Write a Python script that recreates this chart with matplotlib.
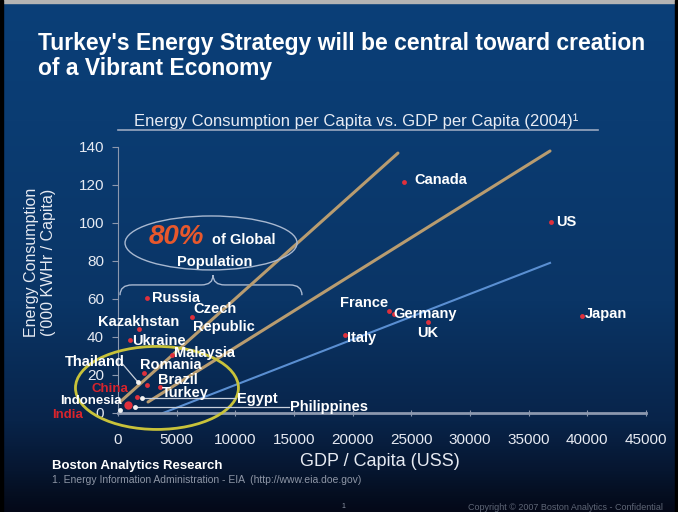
import numpy as np
import matplotlib
matplotlib.use("Agg")
import matplotlib.pyplot as plt
from matplotlib.patches import Ellipse, PathPatch, Rectangle
from matplotlib.path import Path

plt.rcParams['font.family'] = ['Liberation Sans', 'DejaVu Sans']

# country points: GDP per capita (US$), energy use ('000 kWh per capita)
countries = ["Canada", "US", "Japan", "France", "Germany", "UK", "Italy",
             "Russia", "Kazakhstan", "Czech", "Ukraine", "Malaysia",
             "Thailand", "Romania", "Brazil", "Turkey", "China", "Egypt",
             "India", "Indonesia", "Philippines"]
gdp = [24400, 36900, 39550, 23100, 23500, 26400, 19350,
       2470, 1790, 6300, 1020, 4600,
       1700, 2220, 2470, 3580, 1620, 2050,
       850, 170, 1450]
energy = [121.6, 100.5, 51, 53.5, 52, 47.9, 41,
          60.5, 44.2, 50.5, 38.4, 30.5,
          16.3, 21, 14.7, 13.7, 8.4, 7.9,
          4.2, 1.6, 3.2]
marker_color = ["r", "r", "r", "r", "r", "r", "r",
                "r", "r", "r", "r", "r",
                "w", "r", "r", "r", "r", "w",
                "r", "w", "w"]

# label anchor (x, y, ha) and colour for every country
label_x = [25300, 37300, 39800, 23000, 23440, 26420, 19520,
           2900, -1700, 6400, 1200, 4800,
           600, 1880, 3400, 3750, 850, 10140,
           -2980, 300, 14660]
label_y = [122.6, 100.5, 52, 57.9, 52, 42, 39.5,
           60.5, 47.9, 50, 37.9, 31.6,
           26.8, 25.3, 17.4, 10.5, 12.6, 7.4,
           -1.2, 6.4, 3.2]
label_ha = ["left", "left", "left", "right", "left", "center", "left",
            "left", "left", "left", "left", "left",
            "right", "left", "left", "left", "right", "left",
            "right", "right", "left"]
label_text = ["Canada", "US", "Japan", "France", "Germany", "UK", "Italy",
              "Russia", "Kazakhstan", "Czech\nRepublic", "Ukraine", "Malaysia",
              "Thailand", "Romania", "Brazil", "Turkey", "China", "Egypt",
              "India", "Indonesia", "Philippines"]
label_red = ["China", "India"]
label_small = ["China", "India", "Indonesia"]

# leader lines from a label back to its point
leaders = {"Thailand": (430, 25.5), "Egypt": (10000, 7.9), "Philippines": (14600, 3.2)}

# reference lines drawn across the scatter (start point, end point)
trend_a = ([170, 23860], [5.8, 136.8])
trend_b = ([2560, 36820], [5.8, 137.9])
trend_c = ([3840, 36820], [0, 79])

x_ticks = [0, 5000, 10000, 15000, 20000, 25000, 30000, 35000, 40000, 45000]
y_ticks = [0, 20, 40, 60, 80, 100, 120, 140]

W, H = 678, 512
fig = plt.figure(figsize=(W / 100, H / 100), dpi=100)

# slide background: vertical blue gradient with a dark footer band
bg = fig.add_axes([0, 0, 1, 1])
bg.set_axis_off()
stops_y = np.array([0, 120, 300, 420, 470, 495, 512])
stops_c = np.array([[10, 63, 120], [11, 60, 114], [10, 53, 102],
                    [8, 36, 74], [6, 22, 48], [5, 14, 32], [4, 8, 24]]) / 255
rows = np.arange(H)
grad = np.stack([np.interp(rows, stops_y, stops_c[:, k]) for k in range(3)], axis=-1)
bg.imshow(grad[:, None, :], aspect="auto", extent=[0, W, H, 0])
bg.set_xlim(0, W)
bg.set_ylim(H, 0)
bg.add_patch(Rectangle((0, 0), W, 2.5, color="#b4b4b4"))
bg.add_patch(Rectangle((0, 0), 3, H, color="black"))
bg.add_patch(Rectangle((W - 3, 0), 3, H, color="black"))
bg.plot([118, 598], [130, 130], color="#9aa8c0", lw=1.2)

fig.text(38 / W, 1 - 56 / H,
         "Turkey's Energy Strategy will be central toward creation\nof a Vibrant Economy",
         color="white", fontsize=16.5, fontweight="bold", ha="left", va="center",
         linespacing=1.1)
fig.text(356 / W, 1 - 121 / H,
         "Energy Consumption per Capita vs. GDP per Capita (2004)\u00b9",
         color="#e8ecf4", fontsize=12, ha="center", va="center")

# plot area: x 0..45000 -> px 118..646, y 0..140 -> px 413..147
ax = fig.add_axes([118 / W, 1 - 413 / H, (646 - 118) / W, (413 - 147) / H])
ax.set_xlim(0, 45000)
ax.set_ylim(0, 140)
ax.patch.set_alpha(0)
for side in ("top", "right"):
    ax.spines[side].set_visible(False)
ax.spines["left"].set_color("#8c98ae")
ax.spines["bottom"].set_color("#8c98ae")
ax.spines["bottom"].set_linewidth(2)
ax.set_xticks(x_ticks)
ax.set_yticks(y_ticks)
ax.tick_params(axis="x", colors="#e6eaf2", labelsize=11, direction="inout",
               length=5, pad=12, color="#8c98ae")
ax.tick_params(axis="y", colors="#e6eaf2", labelsize=11, length=4,
               pad=6, color="#8c98ae")

for xs, ys in (trend_a, trend_b):
    ax.plot(xs, ys, color="#b89c70", lw=2.2, solid_capstyle="round", zorder=2)
ax.plot(*trend_c, color="#5a8fd2", lw=1.5, zorder=2)

ax.add_patch(Ellipse((3320, 13.2), 13890, 43.7, fill=False, ec="#c8c23a",
                     lw=2, clip_on=False, zorder=3))
ax.add_patch(Ellipse((7930, 89.5), 14660, 28.4, fill=False, ec="#a8b8d0",
                     lw=1, clip_on=False, zorder=3))

# curly brace under the population oval
brace = Path([(170, 62), (170, 67.4), (1200, 67.4), (7100, 67.4),
              (8100, 67.4), (8100, 72.6), (8100, 67.4), (9100, 67.4),
              (14650, 67.4), (15680, 67.4), (15680, 62)],
             [Path.MOVETO, Path.CURVE3, Path.CURVE3, Path.LINETO,
              Path.CURVE3, Path.CURVE3, Path.CURVE3, Path.CURVE3,
              Path.LINETO, Path.CURVE3, Path.CURVE3])
ax.add_patch(PathPatch(brace, fill=False, ec="#a8b8d0", lw=1, clip_on=False))

ax.text(5000, 92.6, "80%", color="#e8582c", fontsize=20, fontweight="bold",
        fontstyle="italic", ha="center", va="center")
ax.text(8000, 90.8, "of Global", color="white", fontsize=10.5, fontweight="bold",
        ha="left", va="center")
ax.text(8200, 79.5, "Population", color="white", fontsize=10.5, fontweight="bold",
        ha="center", va="center")

for name, (lx, ly) in leaders.items():
    i = countries.index(name)
    ax.plot([gdp[i], lx], [energy[i], ly], color="#c8d0dc", lw=0.9,
            zorder=3, clip_on=False)

for i, name in enumerate(countries):
    c = "#e0303c" if marker_color[i] == "r" else "#f2f2f2"
    size = 6 if name == "India" else 3.5
    ax.plot(gdp[i], energy[i], "o", color=c, ms=size, mec="none", zorder=5,
            clip_on=False)
    tc = "#d8242c" if name in label_red else "white"
    fs = 9.5 if name in label_small else 10.5
    ax.text(label_x[i], label_y[i], label_text[i], color=tc, fontsize=fs,
            fontweight="bold", ha=label_ha[i], va="center", zorder=6,
            linespacing=1.45)

fig.text(40 / W, 1 - 262 / H, "Energy Consumption\n('000 KWHr / Capita)",
         rotation=90, color="#e6eaf2", fontsize=11.5, ha="center", va="center",
         multialignment="center", linespacing=1.2)
fig.text(380 / W, 1 - 461 / H, "GDP / Capita (USS)", color="#e6eaf2",
         fontsize=13, ha="center", va="center")

fig.text(52 / W, 1 - 466 / H, "Boston Analytics Research", color="white",
         fontsize=9.5, fontweight="bold", ha="left", va="center")
fig.text(52 / W, 1 - 480 / H,
         "1. Energy Information Administration - EIA  (http://www.eia.doe.gov)",
         color="#8e96a6", fontsize=7.5, ha="left", va="center")
fig.text(343 / W, 1 - 506 / H, "1", color="#8e96a6", fontsize=5,
         ha="center", va="center")
fig.text(468 / W, 1 - 508 / H,
         "Copyright \u00a9 2007 Boston Analytics - Confidential",
         color="#5e6676", fontsize=6.5, ha="left", va="center")

fig.savefig("out.png", dpi=100)
